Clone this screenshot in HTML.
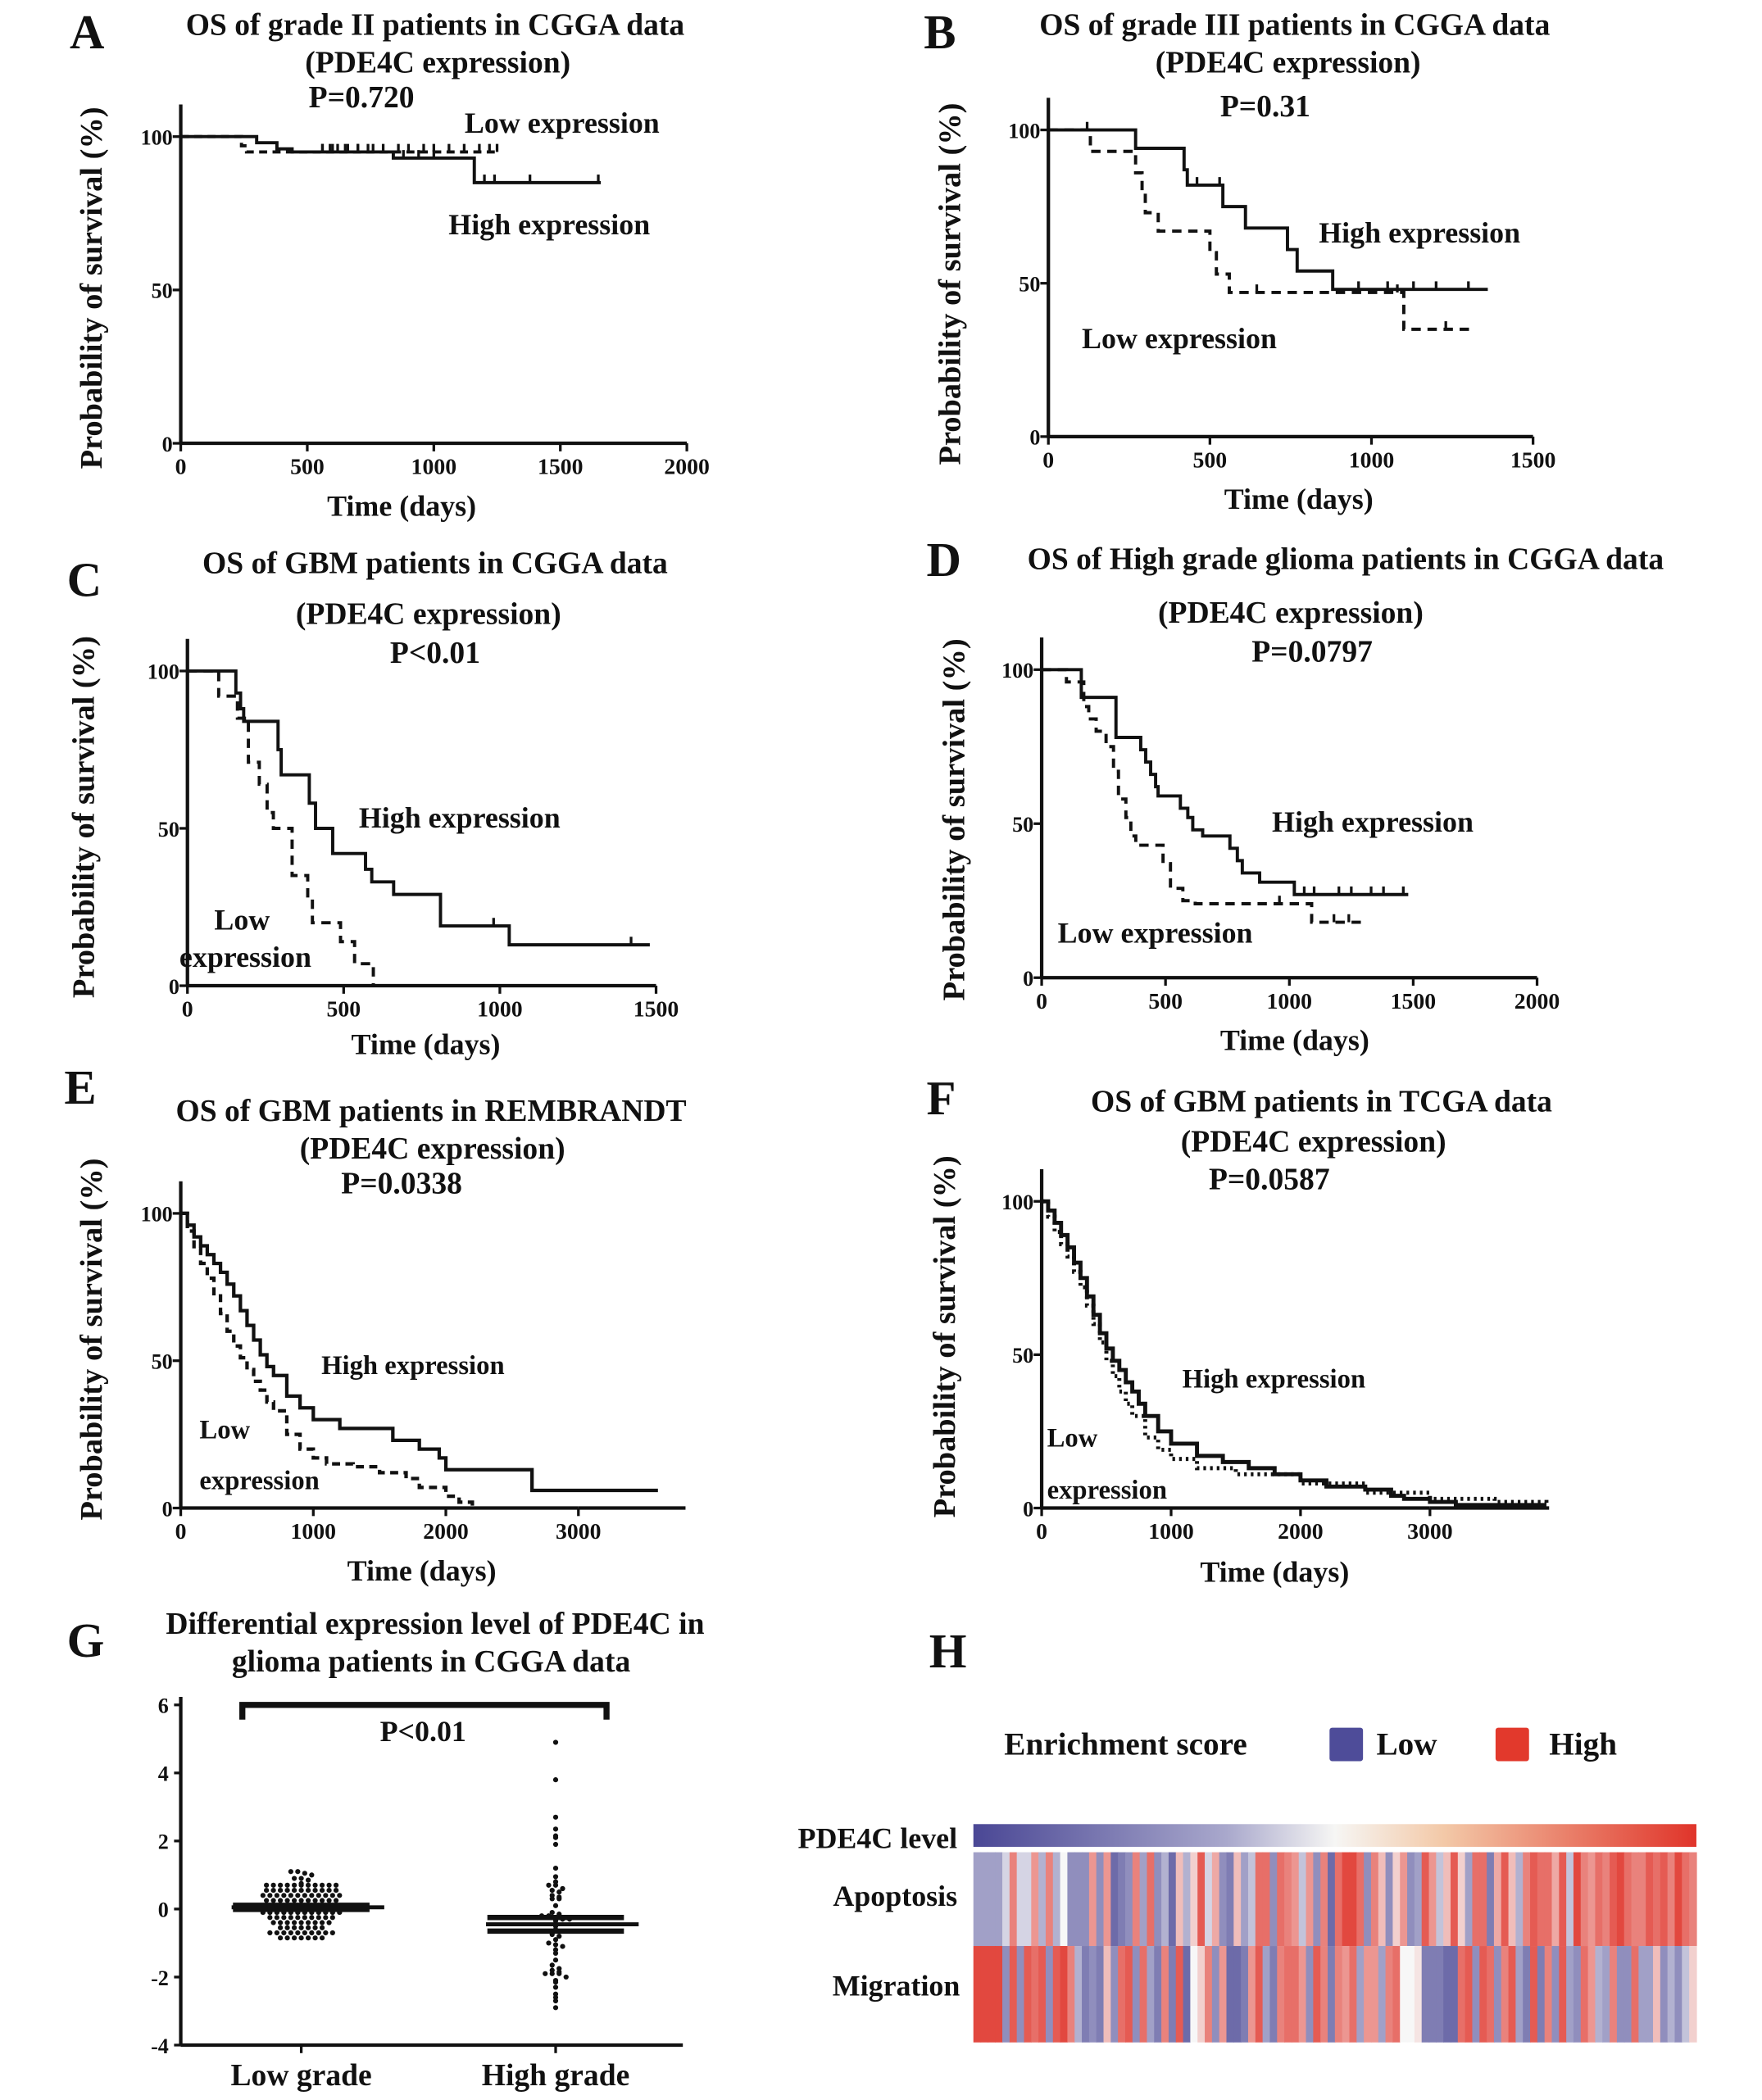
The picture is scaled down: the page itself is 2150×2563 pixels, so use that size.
<!DOCTYPE html>
<html><head><meta charset="utf-8"><style>
html,body{margin:0;padding:0;background:#fff}
svg{display:block}
text{font-family:"Liberation Serif",serif;font-weight:bold;fill:#111}
</style></head><body>
<svg id="fig" width="2150" height="2563" viewBox="0 0 1316 1568" preserveAspectRatio="none" xmlns="http://www.w3.org/2000/svg">
<defs>
<linearGradient id="pdeGrad" x1="0" x2="1" y1="0" y2="0">
<stop offset="0" stop-color="#4a4795"/><stop offset="0.35" stop-color="#a9a8cc"/><stop offset="0.5" stop-color="#f6f6f4"/><stop offset="0.65" stop-color="#f3c9a8"/><stop offset="1" stop-color="#e0342a"/>
</linearGradient>
</defs>
<g id="static">
<text x="52" y="36" font-size="36">A</text>
<text x="690" y="36" font-size="36">B</text>
<text x="50" y="445" font-size="36">C</text>
<text x="692" y="430" font-size="36">D</text>
<text x="48" y="824" font-size="36">E</text>
<text x="692" y="832" font-size="36">F</text>
<text x="50" y="1237" font-size="36">G</text>
<text x="694" y="1245" font-size="36">H</text>
<g font-size="23" text-anchor="middle">
<text x="325" y="26">OS of grade II patients in CGGA data</text>
<text x="327" y="54">(PDE4C expression)</text>
<text x="270" y="80">P=0.720</text>
<text x="967" y="26">OS of grade III patients in CGGA data</text>
<text x="962" y="54">(PDE4C expression)</text>
<text x="945" y="87">P=0.31</text>
<text x="325" y="428">OS of GBM patients in CGGA data</text>
<text x="320" y="466">(PDE4C expression)</text>
<text x="325" y="495">P&lt;0.01</text>
<text x="1005" y="425">OS of High grade glioma patients in CGGA data</text>
<text x="964" y="465">(PDE4C expression)</text>
<text x="980" y="494">P=0.0797</text>
<text x="322" y="837">OS of GBM patients in REMBRANDT</text>
<text x="323" y="865">(PDE4C expression)</text>
<text x="300" y="891">P=0.0338</text>
<text x="987" y="830">OS of GBM patients in TCGA data</text>
<text x="981" y="860">(PDE4C expression)</text>
<text x="948" y="888">P=0.0587</text>
<text x="325" y="1220">Differential expression  level of PDE4C in</text>
<text x="322" y="1248">glioma patients in CGGA data</text>
</g>
<g font-size="22">
<text x="347" y="99">Low expression</text>
<text x="335" y="175">High expression</text>
<text x="985" y="181">High expression</text>
<text x="808" y="260">Low expression</text>
<text x="268" y="618">High expression</text>
<text x="160" y="694">Low</text>
<text x="134" y="722">expression</text>
<text x="950" y="621">High expression</text>
<text x="790" y="704">Low expression</text>
</g>
<g font-size="20">
<text x="240" y="1026">High expression</text>
<text x="149" y="1074">Low</text>
<text x="149" y="1112">expression</text>
<text x="883" y="1036">High expression</text>
<text x="782" y="1080">Low</text>
<text x="782" y="1119">expression</text>
</g>
<g font-size="22" text-anchor="middle">
<text x="300" y="385">Time  (days)</text>
<text x="970" y="380">Time  (days)</text>
<text x="318" y="787">Time  (days)</text>
<text x="967" y="784">Time  (days)</text>
<text x="315" y="1180">Time  (days)</text>
<text x="952" y="1181">Time  (days)</text>
</g>
<g font-size="23.5" text-anchor="middle">
<text transform="translate(76,215) rotate(-90)">Probability of  survival (%)</text>
<text transform="translate(717,212) rotate(-90)">Probability of  survival (%)</text>
<text transform="translate(70,610) rotate(-90)">Probability of  survival (%)</text>
<text transform="translate(720,612) rotate(-90)">Probability of  survival (%)</text>
<text transform="translate(76,1000) rotate(-90)">Probability of  survival (%)</text>
<text transform="translate(713,998) rotate(-90)">Probability of  survival (%)</text>
</g>
<text x="750" y="1310" font-size="24">Enrichment score</text>
<rect x="993" y="1290" width="25" height="25" fill="#4e4c99" rx="2"/>
<text x="1028" y="1310" font-size="24">Low</text>
<rect x="1117" y="1290" width="25" height="25" fill="#e2392c" rx="2"/>
<text x="1157" y="1310" font-size="24">High</text>
<g font-size="22" text-anchor="end">
<text x="715" y="1380">PDE4C level</text>
<text x="715" y="1423">Apoptosis</text>
<text x="717" y="1490">Migration</text>
</g>
<rect x="727" y="1362" width="540" height="17" fill="url(#pdeGrad)"/>
</g>
<g id="dyn"></g>
</svg>
<script>
const aHighT=[0,300,380,440,840,1160,1660], aHighS=[100,98,96,95,93,85,85];
const aLowT=[0,240,260,1260], aLowS=[100,97,95,95];
const aHighC=[560,600,650,700,760,880,940,1000,1200,1240,1380,1650];
const aLowC=[560,590,620,660,700,740,800,860,900,960,1000,1060,1120,1180,1220,1250];
const bHighT=[0,270,420,430,540,610,740,770,880,1360], bHighS=[100,94,87,82,75,68,61,54,48,48];
const bLowT=[0,130,270,290,300,340,500,520,560,1100,1320], bLowS=[100,93,86,80,73,67,60,53,47,35,35];
const bHighC=[120,270,460,530,960,1050,1130,1200,1300];
const bLowC=[645,1080,1230];
const cHighT=[0,155,170,180,290,300,390,410,465,570,590,660,810,1030,1480], cHighS=[100,93,88,84,75,67,58,50,42,37,33,29,19,13,13];
const cLowT=[0,100,160,195,230,255,275,335,385,400,490,535,595], cLowS=[100,92,85,71,64,55,50,35,28,20,14,7,0];
const cHighC=[980,1420];
const cLowC=[];
const dHighT=[0,160,300,400,420,440,460,470,560,590,610,650,760,790,810,880,1020,1480], dHighS=[100,91,78,74,70,66,62,59,55,52,48,46,42,38,34,31,27,27];
const dLowT=[0,100,170,190,220,260,290,310,340,360,380,490,520,570,620,1090,1310], dLowS=[100,96,88,84,80,75,67,58,52,46,43,37,29,25,24,18,18];
const dHighC=[1060,1100,1200,1250,1330,1380,1460];
const dLowC=[960,1180,1240];
const eHighT=[0,50,100,150,200,250,300,350,400,450,500,550,600,650,700,800,900,1000,1200,1600,1800,1950,2000,2650,3600], eHighS=[100,96,92,89,86,83,80,76,72,67,62,57,52,48,45,38,34,30,27,23,20,17,13,6,6];
const eLowT=[0,50,100,150,200,250,300,350,400,450,500,550,600,650,700,800,900,1000,1100,1300,1500,1700,1800,2000,2100,2200], eLowS=[100,94,88,83,78,72,66,60,55,51,47,43,40,36,33,25,20,17,15,14,12,10,7,4,2,0];
const fHighT=[0,50,100,150,200,250,300,350,400,450,500,550,600,650,700,750,800,900,1000,1200,1400,1600,1800,2000,2200,2500,2700,2800,3000,3200,3900], fHighS=[100,97,93,89,85,80,75,69,63,57,52,48,45,41,38,34,30,25,21,17,15,13,11,9,7,6,4,3,2,1,1];
const fLowT=[0,50,100,150,200,250,300,350,400,450,500,550,600,650,700,800,900,1000,1200,1500,2000,2500,3000,3500,3900], fLowS=[100,95,90,86,82,77,72,66,60,54,48,43,38,34,30,23,19,16,13,11,8,5,3,2,1];

const aXTicks=[0,500,1000,1500,2000], bXTicks=[0,500,1000,1500], cXTicks=[0,500,1000,1500];
const dXTicks=[0,500,1000,1500,2000], eXTicks=[0,1000,2000,3000], fXTicks=[0,1000,2000,3000];
const kmYTicks=[0,50,100];

const gCategories=["Low grade","High grade"];
const gYTicks=[6,4,2,0,-2,-4];
const gLowVals=[1.1,1.1,1.05,1.0,0.9,0.9,0.85,0.75,0.7,0.7,0.7,0.7,0.7,0.7,0.7,0.7,0.7,0.7,0.7,0.55,0.55,0.55,0.55,0.55,0.55,0.55,0.55,0.55,0.55,0.55,0.4,0.4,0.4,0.4,0.4,0.4,0.4,0.4,0.4,0.4,0.4,0.4,0.25,0.25,0.25,0.25,0.25,0.25,0.25,0.25,0.25,0.25,0.25,0.1,0.1,0.1,0.1,0.1,0.1,0.1,0.1,0.1,0.1,0.1,0.1,-0.1,-0.1,-0.1,-0.1,-0.1,-0.1,-0.1,-0.1,-0.1,-0.1,-0.1,-0.1,-0.25,-0.25,-0.25,-0.25,-0.25,-0.25,-0.25,-0.25,-0.25,-0.25,-0.4,-0.4,-0.4,-0.4,-0.4,-0.4,-0.4,-0.4,-0.4,-0.55,-0.55,-0.55,-0.55,-0.55,-0.55,-0.55,-0.7,-0.7,-0.7,-0.7,-0.7,-0.7,-0.7,-0.7,-0.7,-0.7,-0.85,-0.85,-0.85,-0.85,-0.85,-0.85,-0.85];
const gHighVals=[4.9,3.8,2.7,2.35,2.15,2.1,1.9,1.2,0.95,0.8,0.7,0.7,0.6,0.55,0.5,0.4,0.35,0.3,0.3,0.1,-0.1,-0.15,-0.2,-0.2,-0.25,-0.3,-0.3,-0.35,-0.5,-0.6,-0.75,-0.8,-0.9,-1.0,-1.05,-1.1,-1.2,-1.3,-1.5,-1.65,-1.75,-1.8,-1.85,-1.9,-1.9,-1.9,-2.0,-2.1,-2.15,-2.3,-2.5,-2.6,-2.7,-2.9];
const gMeans=[0.05,-0.45];
const gSems=[0.06,0.2];

const hApoptosis=[-.5,-.5,-.5,-.5,-.2,.6,-.2,-.2,.5,-.4,.6,-.4,0,-.6,-.6,-.6,.5,-.6,.5,-.8,-.7,-.6,.6,-.5,.7,-.6,-.4,-.8,.3,-.4,.2,.8,-.2,.4,-.6,-.7,.3,-.5,-.3,.7,.7,-.6,.7,.6,.5,-.3,.5,-.6,.6,-.8,.7,.9,.9,.7,-.6,.6,.3,-.6,.2,.5,-.6,-.5,.8,.5,-.3,.3,.8,.2,-.5,.7,.7,-.7,.4,.8,.3,-.4,.6,.8,.7,.7,.4,.8,-.3,.9,.6,.5,.7,.6,.8,.9,.7,.6,.6,.8,.7,.8,.6,.9,.7,.6];
const hMigration=[.9,.9,.9,.9,-.6,.8,-.6,.8,.7,.8,-.6,.8,.9,.6,-.4,-.7,-.6,-.7,.3,-.6,.7,.8,-.6,.7,-.5,-.7,.6,-.7,.8,-.8,0,.2,.6,-.6,.5,-.8,-.8,-.7,.5,.8,-.5,-.7,.6,.7,.7,.5,-.6,.8,.6,-.7,.6,.5,.7,-.5,.5,.5,-.5,.6,.7,0,0,.1,-.7,-.7,-.7,-.8,-.8,.7,.8,-.6,.8,.7,-.6,.6,.8,-.5,-.7,.8,-.7,.6,-.6,.8,-.5,-.6,.7,.5,-.4,-.5,.6,-.6,-.6,.7,-.5,-.5,.3,-.6,-.4,-.6,-.3,.2];

const NS="http://www.w3.org/2000/svg";
const root=document.getElementById('dyn');
function mk(tag,attrs,parent){const e=document.createElementNS(NS,tag);for(const k in attrs)e.setAttribute(k,attrs[k]);(parent||root).appendChild(e);return e;}
function stepAt(T,S,t){let s=S[0];for(let i=0;i<T.length;i++){if(T[i]<=t)s=S[i];}return s;}

function kmPanel(id,x0,xMaxPx,tMax,y100,y0,xTicks,series,sw){
  const sx=t=>x0+(t/tMax)*(xMaxPx-x0);
  const sy=v=>y0-(v/100)*(y0-y100);
  const g=mk('g',{});
  
  
  const ya=mk('line',{x1:x0,y1:y100-24,x2:x0,y2:y0,stroke:'#111','stroke-width':2.6},g);
  
  
  const xa=mk('line',{x1:x0-1,y1:y0,x2:xMaxPx,y2:y0,stroke:'#111','stroke-width':2.6},g);
  
  
  kmYTicks.forEach(v=>{
    mk('line',{x1:x0-6,y1:sy(v),x2:x0,y2:sy(v),stroke:'#111','stroke-width':2},g);
    const t=mk('text',{x:x0-6,y:sy(v)+6,'font-size':16,'text-anchor':'end'},g);
    t.textContent=v;
    
    
  });
  xTicks.forEach(v=>{
    mk('line',{x1:sx(v),y1:y0,x2:sx(v),y2:y0+6,stroke:'#111','stroke-width':2},g);
    const t=mk('text',{x:sx(v),y:y0+23,'font-size':17,'text-anchor':'middle'},g);
    t.textContent=v;
    
    
  });
  series.forEach(s=>{
    let d='M'+sx(s.T[0])+','+sy(s.S[0]);
    for(let i=1;i<s.T.length;i++){d+=' H'+sx(s.T[i])+' V'+sy(s.S[i]);}
    const p=mk('path',{d:d,fill:'none',stroke:'#111','stroke-width':sw||2.4,'stroke-dasharray':s.dash||'none'},g);
    
    
    (s.C||[]).forEach(c=>{
      const yy=sy(stepAt(s.T,s.S,c));
      const m=mk('line',{x1:sx(c),y1:yy-6,x2:sx(c),y2:yy,stroke:'#111','stroke-width':2},g);
      
      
    });
  });
}
kmPanel('a',135,513,2000,102,331,aXTicks,[{name:'high',T:aHighT,S:aHighS,C:aHighC},{name:'low',T:aLowT,S:aLowS,C:aLowC,dash:'6 4'}]);
kmPanel('b',783,1145,1500,97,326,bXTicks,[{name:'high',T:bHighT,S:bHighS,C:bHighC},{name:'low',T:bLowT,S:bLowS,C:bLowC,dash:'7 5'}]);
kmPanel('c',140,490,1500,501,736,cXTicks,[{name:'high',T:cHighT,S:cHighS,C:cHighC},{name:'low',T:cLowT,S:cLowS,C:cLowC,dash:'7 5'}]);
kmPanel('d',778,1148,2000,500,730,dXTicks,[{name:'high',T:dHighT,S:dHighS,C:dHighC},{name:'low',T:dLowT,S:dLowS,C:dLowC,dash:'7 5'}]);
kmPanel('e',135,432,3000,906,1126,eXTicks,[{name:'high',T:eHighT,S:eHighS},{name:'low',T:eLowT,S:eLowS,dash:'6 4'}],2.6);
kmPanel('f',778,1068,3000,897,1126,fXTicks,[{name:'high',T:fHighT,S:fHighS},{name:'low',T:fLowT,S:fLowS,dash:'2 3'}],3);
(function(){
  const e1=mk('line',{x1:432,y1:1126,x2:512,y2:1126,stroke:'#111','stroke-width':2.6});
  
  
  const e2=mk('line',{x1:1068,y1:1126,x2:1157,y2:1126,stroke:'#111','stroke-width':2.6});
  
  
})();

(function(){
  const x0=135,xEnd=510,yTop=1273,yBot=1527,vTop=6,vBot=-4;
  const sy=v=>yBot-(v-vBot)/(vTop-vBot)*(yBot-yTop);
  const cx=[225,415];
  const g=mk('g',{});
  
  
  const ya=mk('line',{x1:x0,y1:yTop-6,x2:x0,y2:yBot,stroke:'#111','stroke-width':2.6},g);
  
  
  const xa=mk('line',{x1:x0,y1:yBot,x2:xEnd,y2:yBot,stroke:'#111','stroke-width':2.6},g);
  
  
  gYTicks.forEach(v=>{
    mk('line',{x1:x0-5,y1:sy(v),x2:x0,y2:sy(v),stroke:'#111','stroke-width':2},g);
    const t=mk('text',{x:x0-9,y:sy(v)+6,'font-size':16,'text-anchor':'end','font-weight':'normal'},g);
    t.textContent=v;
    
    
  });
  gCategories.forEach((c,i)=>{
    mk('line',{x1:cx[i],y1:yBot,x2:cx[i],y2:yBot+6,stroke:'#111','stroke-width':2},g);
    const t=mk('text',{x:cx[i],y:yBot+30,'font-size':23,'text-anchor':'middle'},g);
    t.textContent=c;
    
    
  });
  const br=mk('path',{d:'M181,1284 V1273 H453 V1284',fill:'none',stroke:'#111','stroke-width':4.5},g);
  
  
  const pt=mk('text',{x:316,y:1300,'font-size':22,'text-anchor':'middle'},g);
  pt.textContent='P<0.01';
  
  
  [gLowVals,gHighVals].forEach((vals,i)=>{
    const bins={};
    vals.forEach(v=>{const k=Math.round(v/0.13);(bins[k]=bins[k]||[]).push(v);});
    Object.keys(bins).forEach(k=>{
      const arr=bins[k],n=arr.length;
      arr.forEach((v,j)=>{
        const dx=(j-(n-1)/2)*5.2;
        const d=mk('circle',{cx:cx[i]+dx,cy:sy(v),r:1.9,fill:'#111'},g);
        
        
      });
    });
    const m=mk('line',{x1:cx[i]-52,y1:sy(gMeans[i]),x2:cx[i]+62,y2:sy(gMeans[i]),stroke:'#111','stroke-width':3},g);
    
    
    [gMeans[i]+gSems[i],gMeans[i]-gSems[i]].forEach(v=>{
      const s=mk('line',{x1:cx[i]-51,y1:sy(v),x2:cx[i]+51,y2:sy(v),stroke:'#111','stroke-width':4},g);
      
      
    });
  });
})();

(function(){
  const x0=727,w=540;
  function col(v){
    const a=Math.min(1,Math.abs(v));
    const c=v<0?[75,72,150]:[224,52,42];
    const r=Math.round(247+(c[0]-247)*a),gg=Math.round(247+(c[1]-247)*a),b=Math.round(247+(c[2]-247)*a);
    return 'rgb('+r+','+gg+','+b+')';
  }
  [[hApoptosis,1383,70,'apoptosis'],[hMigration,1453,72,'migration']].forEach(([vals,y,h,nm])=>{
    const cw=w/vals.length;
    vals.forEach((v,i)=>{
      const r=mk('rect',{x:x0+i*cw,y:y,width:cw+0.4,height:h,fill:col(v)});
      
      
    });
  });
})();
</script>
</body></html>
